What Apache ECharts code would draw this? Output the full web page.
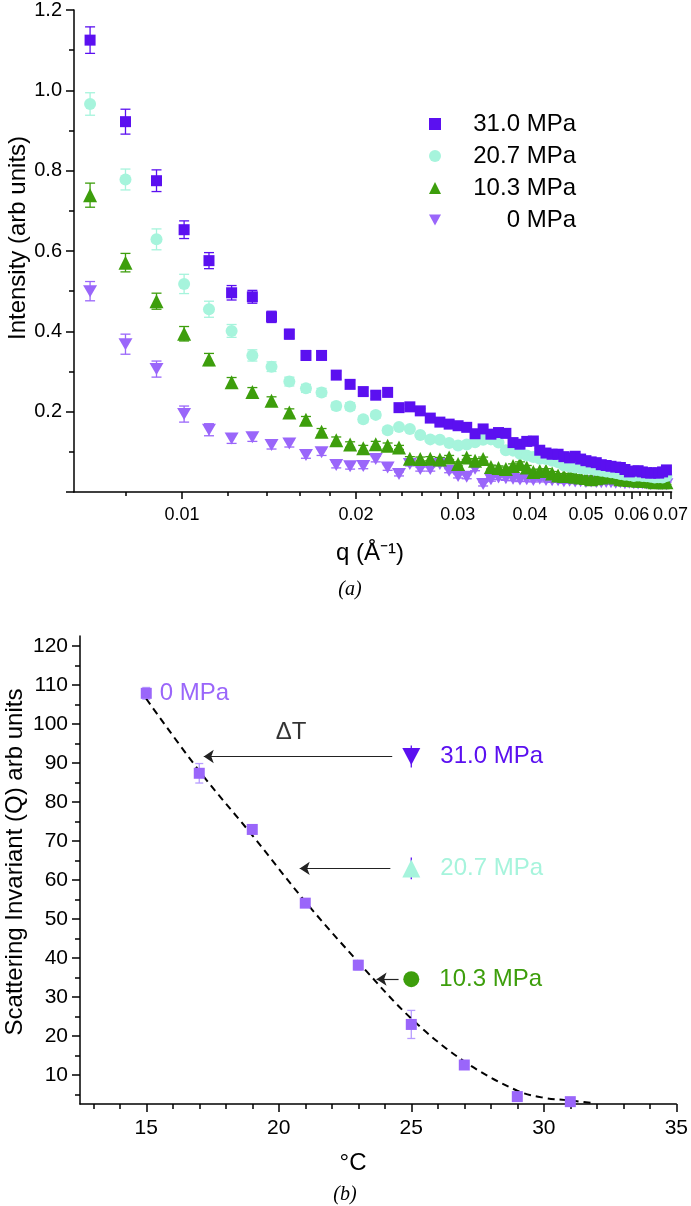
<!DOCTYPE html>
<html>
<head>
<meta charset="utf-8">
<script src="https://cdn.jsdelivr.net/npm/echarts@6.0.0/dist/echarts.min.js"></script>
<style>
  html, body { margin: 0; padding: 0; background: #fff; }
  #chart { width: 691px; height: 1206px; }
</style>
</head>
<body>
<div id="chart"></div>
<script>
// ---- panel (a): SAXS intensity vs q ----
const qTop = [
  0.00693, 0.00798, 0.00903, 0.01008, 0.01113, 0.01218, 0.01323, 0.01428, 0.01533, 0.01638,
  0.01743, 0.01848, 0.01953, 0.02058, 0.02163, 0.02268, 0.02373, 0.02478, 0.02583, 0.02688,
  0.02793, 0.02898, 0.03003, 0.03108, 0.03213, 0.03318, 0.03423, 0.03528, 0.03633, 0.03738,
  0.03843, 0.03948, 0.04053, 0.04158, 0.04263, 0.04368, 0.04473, 0.04578, 0.04683, 0.04788,
  0.04893, 0.04998, 0.05103, 0.05208, 0.05313, 0.05418, 0.05523, 0.05628, 0.05733, 0.05838,
  0.05943, 0.06048, 0.06153, 0.06258, 0.06363, 0.06468, 0.06573, 0.06678, 0.06783, 0.06888
];
const int31 = [
  1.125, 0.922, 0.775, 0.653, 0.576, 0.496, 0.486, 0.436, 0.393, 0.340,
  0.340, 0.291, 0.268, 0.250, 0.241, 0.248, 0.210, 0.212, 0.202, 0.184,
  0.174, 0.169, 0.165, 0.161, 0.145, 0.157, 0.144, 0.148, 0.146, 0.123,
  0.119, 0.126, 0.127, 0.104, 0.097, 0.094, 0.094, 0.088, 0.085, 0.089,
  0.082, 0.078, 0.075, 0.073, 0.068, 0.066, 0.064, 0.062, 0.061, 0.056,
  0.050, 0.052, 0.053, 0.050, 0.048, 0.047, 0.048, 0.047, 0.050, 0.055
];
const int207 = [
  0.966, 0.778, 0.629, 0.518, 0.455, 0.401, 0.340, 0.312, 0.275, 0.258,
  0.248, 0.214, 0.213, 0.181, 0.192, 0.154, 0.162, 0.157, 0.142, 0.131,
  0.130, 0.122, 0.116, 0.118, 0.124, 0.130, 0.131, 0.123, 0.104, 0.103,
  0.095, 0.091, 0.087, 0.083, 0.082, 0.078, 0.074, 0.066, 0.063, 0.061,
  0.059, 0.057, 0.057, 0.055, 0.053, 0.051, 0.049, 0.047, 0.045, 0.043,
  0.042, 0.040, 0.041, 0.040, 0.039, 0.038, 0.036, 0.037, 0.036, 0.040
];
const int103 = [
  0.739, 0.571, 0.475, 0.394, 0.330, 0.273, 0.249, 0.227, 0.198, 0.180,
  0.150, 0.129, 0.118, 0.109, 0.119, 0.115, 0.111, 0.083, 0.082, 0.083,
  0.081, 0.086, 0.070, 0.086, 0.078, 0.082, 0.062, 0.060, 0.057, 0.065,
  0.070, 0.061, 0.050, 0.052, 0.053, 0.046, 0.041, 0.040, 0.041, 0.038,
  0.036, 0.035, 0.032, 0.034, 0.036, 0.038, 0.040, 0.036, 0.032, 0.031,
  0.030, 0.029, 0.028, 0.028, 0.028, 0.026, 0.024, 0.025, 0.024, 0.024
];
const int0 = [
  0.500, 0.368, 0.306, 0.194, 0.155, 0.133, 0.136, 0.117, 0.121, 0.092,
  0.099, 0.067, 0.064, 0.065, 0.082, 0.061, 0.045, 0.070, 0.057, 0.057,
  0.070, 0.053, 0.040, 0.038, 0.058, 0.020, 0.032, 0.036, 0.034, 0.033,
  0.031, 0.032, 0.030, 0.033, 0.030, 0.029, 0.029, 0.027, 0.028, 0.026,
  0.027, 0.025, 0.026, 0.025, 0.024, 0.025, 0.024, 0.023, 0.024, 0.022,
  0.023, 0.022, 0.021, 0.022, 0.021, 0.020, 0.021, 0.020, 0.020, 0.019
];
// error bars of the first points; the rest get a small default
const err31 = [0.033, 0.031, 0.027, 0.022, 0.020, 0.018, 0.016, 0.014, 0.012, 0.012, 0.011, 0.010, 0.010, 0.009, 0.009, 0.008];
const err207 = [0.028, 0.026, 0.026, 0.024, 0.020, 0.016, 0.014, 0.012, 0.011, 0.010, 0.010, 0.009, 0.009, 0.008, 0.008, 0.008];
const err103 = [0.030, 0.023, 0.020, 0.018, 0.015, 0.012, 0.011, 0.010, 0.009, 0.008, 0.008, 0.008, 0.007, 0.007, 0.007, 0.007];
const err0 = [0.024, 0.025, 0.020, 0.020, 0.015, 0.012, 0.010, 0.010, 0.009, 0.008, 0.008, 0.007, 0.007, 0.007, 0.007, 0.007];
const errDefault = 0.005;

const qMajor = [0.01, 0.02, 0.03, 0.04, 0.05, 0.06, 0.07];
const qMinor = [0.008, 0.012, 0.014, 0.016, 0.018, 0.022, 0.024, 0.026, 0.028, 0.032, 0.034, 0.036, 0.038,
  0.042, 0.044, 0.046, 0.048, 0.052, 0.054, 0.056, 0.058, 0.062, 0.064, 0.066, 0.068];

// ---- panel (b): scattering invariant vs temperature ----
const tempC = [15, 17, 19, 21, 23, 25, 27, 29, 31];
const inv0 = [107.9, 87.4, 73.0, 54.1, 38.2, 23.0, 12.6, 4.5, 3.2];
const inv0Err = [1.5, 2.5, 0.8, 1.0, 1.2, 3.6, 0.8, 0.6, 0.5];
const fitT = [15, 17, 19, 21, 23, 25, 27, 29, 30, 31, 31.8];
const fitQ = [106.5, 88, 71.5, 54.5, 39, 24.5, 13.5, 6, 4.2, 3.5, 2.9];

const pressNames = ['31.0 MPa', '20.7 MPa', '10.3 MPa'];
const pressT = 25;
const pressQ = [91.7, 63.0, 34.6];
const pressErr = [2.8, 2.8, 0.5];
const arrowFromT = [24.28, 24.21, 24.52];
const arrowToT = [17.17, 20.79, 23.69];

const tMajor = [15, 20, 25, 30, 35];
const tMinor = [13, 14, 16, 17, 18, 19, 21, 22, 23, 24, 26, 27, 28, 29, 31, 32, 33, 34];
const qInvMajor = [10, 20, 30, 40, 50, 60, 70, 80, 90, 100, 110, 120];
const qInvMinor = [5, 15, 25, 35, 45, 55, 65, 75, 85, 95, 105, 115];

const C31 = '#5b10f0', C207 = '#a6f4dc', C103 = '#3d9e0c', C0 = '#9a66fa';
const FONT = '"Liberation Sans", Arial, sans-serif';
const downTri = 'path://M0,0L10,0L5,9Z';

function errSeries(xs, ys, errs, color, xi, yi, cap, dflt) {
  return {
    type: 'custom', xAxisIndex: xi, yAxisIndex: yi, silent: true, clip: false, z: 1,
    encode: { x: 0, y: 1 },
    data: xs.map((x, i) => [x, ys[i], errs[i] != null ? errs[i] : dflt]),
    renderItem: function (params, api) {
      const x = api.value(0), y = api.value(1), e = api.value(2);
      const lo = api.coord([x, y - e]), hi = api.coord([x, y + e]);
      const st = { stroke: color, lineWidth: 1.3 };
      const kids = [{ type: 'line', shape: { x1: lo[0], y1: lo[1], x2: hi[0], y2: hi[1] }, style: st }];
      if (cap > 0) {
        kids.push({ type: 'line', shape: { x1: lo[0] - cap, y1: lo[1], x2: lo[0] + cap, y2: lo[1] }, style: st });
        kids.push({ type: 'line', shape: { x1: hi[0] - cap, y1: hi[1], x2: hi[0] + cap, y2: hi[1] }, style: st });
      }
      return { type: 'group', children: kids };
    }
  };
}

function pairs(xs, ys) {
  return xs.map((x, i) => [x, ys[i]]);
}

const axisLine = { show: true, lineStyle: { color: '#000', width: 1.5 } };
const tickStyle = { color: '#000', width: 1.5 };
const labelBase = { color: '#000', fontFamily: FONT };

const chart = echarts.init(document.getElementById('chart'));

const pressColors = [C31, C207, C103];
const pressSymbols = [downTri, 'triangle', 'circle'];
const pressSizes = [[18, 17], 18, 16];

const option = {
  animation: false,
  backgroundColor: '#fff',
  textStyle: { fontFamily: FONT },
  grid: [
    { left: 74, top: 10, width: 601, height: 482 },
    { left: 80, top: 636, width: 602, height: 468 }
  ],
  xAxis: [
    {
      gridIndex: 0, type: 'log', min: 0.0065, max: 0.0703, position: 'bottom',
      axisLine: axisLine,
      axisTick: { show: true, customValues: qMajor, length: 7, lineStyle: tickStyle },
      axisLabel: Object.assign({ customValues: qMajor, fontSize: 18, margin: 14,
        formatter: v => Number(v).toFixed(2) }, labelBase),
      splitLine: { show: false }, minorTick: { show: false }
    },
    {
      gridIndex: 0, type: 'log', min: 0.0065, max: 0.0703, position: 'bottom',
      axisLine: { show: false },
      axisTick: { show: true, customValues: qMinor, length: 4, lineStyle: tickStyle },
      axisLabel: { show: false }, splitLine: { show: false }
    },
    {
      gridIndex: 1, type: 'value', min: 12.5, max: 35, position: 'bottom',
      axisLine: axisLine,
      axisTick: { show: true, customValues: tMajor, length: 8, lineStyle: tickStyle },
      axisLabel: Object.assign({ customValues: tMajor, fontSize: 21, margin: 14 }, labelBase),
      splitLine: { show: false }
    },
    {
      gridIndex: 1, type: 'value', min: 12.5, max: 35, position: 'bottom',
      axisLine: { show: false },
      axisTick: { show: true, customValues: tMinor, length: 5, lineStyle: tickStyle },
      axisLabel: { show: false }, splitLine: { show: false }
    }
  ],
  yAxis: [
    {
      gridIndex: 0, type: 'value', min: 0, max: 1.2, interval: 0.2,
      axisLine: axisLine,
      axisTick: { show: true, length: 8, lineStyle: tickStyle },
      minorTick: { show: true, splitNumber: 2, length: 5, lineStyle: tickStyle },
      axisLabel: Object.assign({ fontSize: 20, margin: 12,
        formatter: v => (v === 0 ? '' : v.toFixed(1)) }, labelBase),
      splitLine: { show: false }
    },
    {
      gridIndex: 1, type: 'value', min: 2.6, max: 122.6, position: 'left',
      axisLine: axisLine,
      axisTick: { show: true, customValues: qInvMajor, length: 8, lineStyle: tickStyle },
      axisLabel: Object.assign({ customValues: qInvMajor, fontSize: 21, margin: 12 }, labelBase),
      splitLine: { show: false }
    },
    {
      gridIndex: 1, type: 'value', min: 2.6, max: 122.6, position: 'left',
      axisLine: { show: false },
      axisTick: { show: true, customValues: qInvMinor, length: 5, lineStyle: tickStyle },
      axisLabel: { show: false }, splitLine: { show: false }
    }
  ],
  legend: {
    orient: 'vertical', left: 424, top: 107,
    itemWidth: 12, itemHeight: 12, itemGap: 8,
    selectedMode: false,
    data: ['31.0 MPa', '20.7 MPa', '10.3 MPa', '0 MPa'],
    formatter: n => '{r|' + n + '}',
    textStyle: {
      color: '#000', fontSize: 24, fontFamily: FONT,
      rich: { r: { width: 130, align: 'right', fontSize: 24, lineHeight: 24, fontFamily: FONT, color: '#000' } }
    }
  },
  graphic: [
    { type: 'text', x: 18, y: 238, rotation: Math.PI / 2,
      style: { text: 'Intensity (arb units)', font: '24px ' + FONT, fill: '#000', align: 'center', verticalAlign: 'middle' } },
    { type: 'text', x: 370, y: 553,
      style: { text: 'q (Å⁻¹)', font: '24px ' + FONT, fill: '#000', align: 'center', verticalAlign: 'middle' } },
    { type: 'text', x: 350, y: 590,
      style: { text: '(a)', font: 'italic 20px "Liberation Serif", serif', fill: '#000', align: 'center', verticalAlign: 'middle' } },
    { type: 'text', x: 15, y: 862, rotation: Math.PI / 2,
      style: { text: 'Scattering Invariant (Q) arb units', font: '24px ' + FONT, fill: '#000', align: 'center', verticalAlign: 'middle' } },
    { type: 'text', x: 353, y: 1163,
      style: { text: '°C', font: '24px ' + FONT, fill: '#000', align: 'center', verticalAlign: 'middle' } },
    { type: 'text', x: 345, y: 1195,
      style: { text: '(b)', font: 'italic 20px "Liberation Serif", serif', fill: '#000', align: 'center', verticalAlign: 'middle' } }
  ],
  series: [
    // panel (a) error bars
    errSeries(qTop, int0, err0, C0, 0, 0, 5, errDefault),
    errSeries(qTop, int103, err103, C103, 0, 0, 5, errDefault),
    errSeries(qTop, int207, err207, C207, 0, 0, 5, errDefault),
    errSeries(qTop, int31, err31, C31, 0, 0, 5, errDefault),
    // panel (a) markers
    { name: '0 MPa', type: 'scatter', xAxisIndex: 0, yAxisIndex: 0, symbol: downTri, symbolSize: [14, 12],
      itemStyle: { color: C0, opacity: 1 }, data: pairs(qTop, int0), z: 3 },
    { name: '10.3 MPa', type: 'scatter', xAxisIndex: 0, yAxisIndex: 0, symbol: 'triangle', symbolSize: 14,
      itemStyle: { color: C103, opacity: 1 }, data: pairs(qTop, int103), z: 3 },
    { name: '20.7 MPa', type: 'scatter', xAxisIndex: 0, yAxisIndex: 0, symbol: 'circle', symbolSize: 12,
      itemStyle: { color: C207, opacity: 1 }, data: pairs(qTop, int207), z: 3 },
    { name: '31.0 MPa', type: 'scatter', xAxisIndex: 0, yAxisIndex: 0, symbol: 'rect', symbolSize: 11,
      itemStyle: { color: C31, opacity: 1 }, data: pairs(qTop, int31), z: 3 },

    // panel (b) fitted dashed curve with the ΔT arrows
    { name: 'fit', type: 'line', xAxisIndex: 2, yAxisIndex: 1, smooth: 0.35, symbol: 'none',
      lineStyle: { color: '#000', width: 2, type: [7, 5] }, data: pairs(fitT, fitQ), z: 2,
      markLine: {
        silent: true, symbol: ['none', 'arrow'], symbolSize: 10,
        lineStyle: { color: '#222', width: 1.2, type: 'solid' },
        itemStyle: { color: '#111' },
        label: { show: false },
        data: pressQ.map((q, i) => [{ coord: [arrowFromT[i], q] }, { coord: [arrowToT[i], q] }])
      }
    },
    errSeries(tempC, inv0, inv0Err, '#b79cff', 2, 1, 4, 0),
    { name: 'b0', type: 'scatter', xAxisIndex: 2, yAxisIndex: 1, symbol: 'rect', symbolSize: 11,
      itemStyle: { color: C0, opacity: 1 }, z: 3,
      data: pairs(tempC, inv0).map((p, i) => i === 0 ? {
        value: p,
        label: { show: true, position: 'right', distance: 8, formatter: '0 MPa', color: C0, fontSize: 24, fontFamily: FONT }
      } : p)
    },
    errSeries([pressT, pressT, pressT], pressQ, pressErr, C31, 2, 1, 0, 0),
  ].concat(pressNames.map((nm, i) => ({
    name: 'b' + nm, type: 'scatter', xAxisIndex: 2, yAxisIndex: 1,
    symbol: pressSymbols[i], symbolSize: pressSizes[i],
    itemStyle: { color: pressColors[i], opacity: 1 }, z: 3,
    label: { show: true, position: 'right', distance: 20, formatter: nm, color: pressColors[i], fontSize: 24, fontFamily: FONT },
    data: [[pressT, pressQ[i]]]
  }))).concat([
    { name: 'dT', type: 'scatter', xAxisIndex: 2, yAxisIndex: 1, symbolSize: 0, silent: true,
      label: { show: true, position: 'top', distance: 12, offset: [-7, 0], formatter: 'ΔT', color: '#000', fontSize: 24, fontFamily: FONT },
      data: [[(arrowFromT[0] + arrowToT[0]) / 2, pressQ[0]]] }
  ])
};

chart.setOption(option);
</script>
</body>
</html>
